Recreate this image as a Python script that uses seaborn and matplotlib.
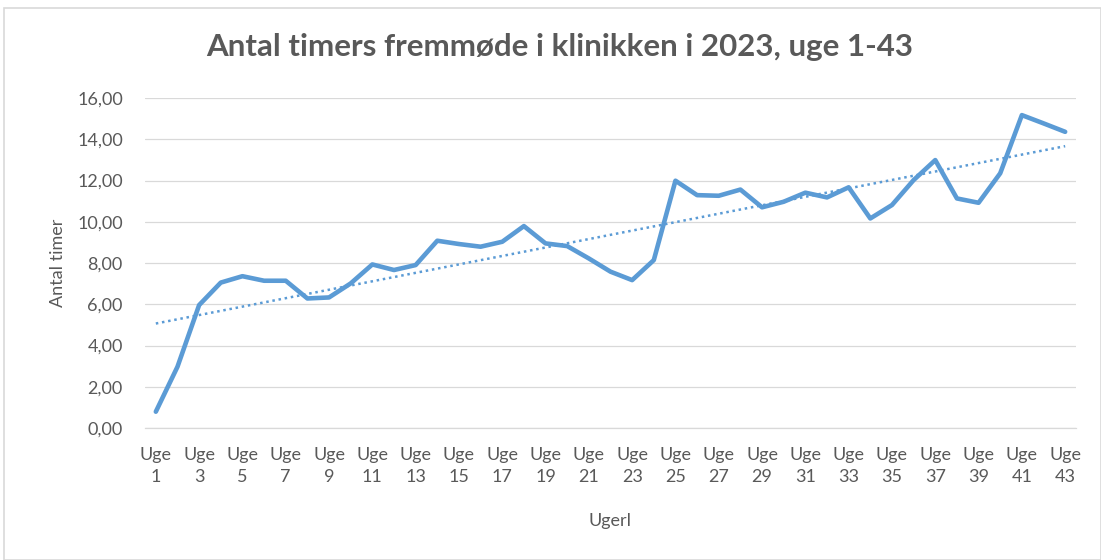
import numpy as np
import pandas as pd
import matplotlib
matplotlib.use("Agg")
import matplotlib.pyplot as plt
import seaborn as sns
from matplotlib.patches import Rectangle

weeks = list(range(1, 44))
hours = [0.79, 2.97, 5.96, 7.05, 7.36, 7.14, 7.14, 6.28, 6.33, 7.01,
         7.93, 7.66, 7.90, 9.08, 8.92, 8.79, 9.03, 9.79, 8.95, 8.82,
         8.22, 7.58, 7.17, 8.14, 11.99, 11.29, 11.26, 11.56, 10.70, 10.97,
         11.41, 11.18, 11.67, 10.16, 10.81, 12.02, 12.99, 11.13, 10.92, 12.35,
         15.17, 14.77, 14.36]
tick_weeks = [w for w in weeks if w % 2 == 1]
tick_labels = [f"Uge\n{w}" for w in tick_weeks]
y_ticks = [0, 2, 4, 6, 8, 10, 12, 14, 16]
title = "Antal timers fremmøde i klinikken i 2023, uge 1-43"
xlabel = "Ugerl"
ylabel = "Antal timer"

df = pd.DataFrame({"uge": weeks, "timer": hours})
slope, intercept = np.polyfit(df["uge"], df["timer"], 1)
df["trend"] = intercept + slope * df["uge"]

sns.set_theme(style="white")
plt.rcParams["font.family"] = ["Lato", "DejaVu Sans"]

fig = plt.figure(figsize=(11.01, 5.6), dpi=100)
ax = fig.add_axes([145 / 1101, 1 - 428 / 560, (1076 - 145) / 1101, (428 - 98) / 560])

line_color = "#5B9BD5"
text_color = "#595959"

sns.lineplot(data=df, x="uge", y="trend", ax=ax, color=line_color, lw=1.8,
             linestyle=(0, (1.0, 1.5)), zorder=3)
sns.lineplot(data=df, x="uge", y="timer", ax=ax, color=line_color, lw=3.3, zorder=4)

ax.set_xlim(0.5, 43.5)
ax.set_ylim(0, 16)
ax.set_yticks(y_ticks)
ax.set_yticklabels([f"{v:.2f}".replace(".", ",") for v in y_ticks])
ax.set_xticks(tick_weeks)
ax.set_xticklabels(tick_labels, linespacing=1.45)
ax.tick_params(axis="both", length=0, labelsize=13, colors=text_color)
ax.tick_params(axis="x", pad=14)
ax.tick_params(axis="y", pad=16)
ax.grid(axis="y", color="#D9D9D9", lw=0.9)
ax.grid(axis="x", visible=False)
for s in ["top", "right", "left"]:
    ax.spines[s].set_visible(False)
ax.spines["bottom"].set_color("#D9D9D9")
ax.spines["bottom"].set_linewidth(0.9)

ax.set_xlabel(xlabel, fontsize=13, color=text_color, labelpad=20)
ax.set_ylabel(ylabel, fontsize=13, color=text_color, labelpad=8)

fig.text(560 / 1101, 1 - 47 / 560, title, ha="center", va="center",
         fontsize=22.5, fontweight="bold", color=text_color)

fig.patches.append(Rectangle((4 / 1101, 0), 1 - 4 / 1101, 1 - 8 / 560,
                             transform=fig.transFigure, fill=False,
                             edgecolor="#D9D9D9", lw=1.2))

fig.savefig("out.png", dpi=100)
